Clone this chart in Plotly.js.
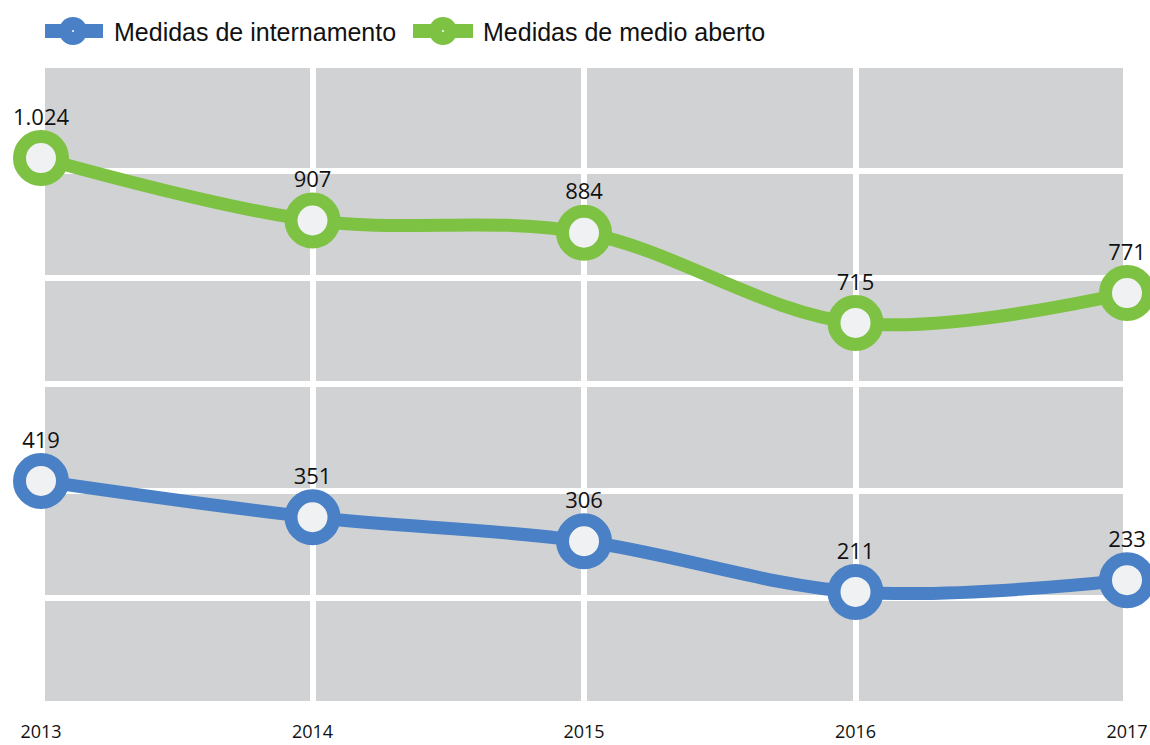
<!DOCTYPE html>
<html><head><meta charset="utf-8">
<script src="https://cdn.plot.ly/plotly-3.0.1.min.js"></script>
<style>html,body{margin:0;padding:0;background:#fff}#chart{width:1150px;height:745px}</style>
</head><body><div id="chart"></div>
<script>
const years = [2013, 2014, 2015, 2016, 2017];
const internamento = [419, 351, 306, 211, 233];
const medioAberto = [1024, 907, 884, 715, 771];
const seriesNames = ['Medidas de internamento', 'Medidas de medio aberto'];
const seriesColors = ['#4a80c5', '#7dc242'];

function trace(name, y, color) {
  return {
    x: years, y: y, name: name, type: 'scatter', mode: 'lines+markers+text',
    line: {color: color, width: 13, shape: 'spline', smoothing: 1},
    marker: {size: 43, color: '#f0f1f3', line: {color: color, width: 13}},
    texttemplate: '%{y:,}', textposition: 'top center',
    textfont: {family: 'Open Sans, sans-serif', size: 22, color: '#111'},
    cliponaxis: false, hoverinfo: 'x+y', showlegend: false
  };
}
const data = [
  trace(seriesNames[0], internamento, seriesColors[0]),
  trace(seriesNames[1], medioAberto, seriesColors[1])
];

// page geometry helpers (pixel -> paper)
const M = {l: 41, r: 23, t: 68, b: 44};
const PW = 1150 - M.l - M.r, PH = 745 - M.t - M.b;
const px = v => (v - M.l) / PW;
const py = v => (745 - M.b - v) / PH;

const shapes = [], annotations = [];
// gray plotting panel (slightly inset from the outer points)
shapes.push({type: 'rect', xref: 'paper', yref: 'paper', layer: 'below',
  x0: px(45), x1: px(1123), y0: 0, y1: 1, fillcolor: '#d1d2d4', line: {width: 0}});

// custom legend (line + big dot + label)
const legendSpec = [
  {lineFrom: 45, lineTo: 103, dot: 73, text: 112},
  {lineFrom: 413, lineTo: 473, dot: 443, text: 481}
];
const LY = 31;
legendSpec.forEach((s, i) => {
  const c = seriesColors[i];
  shapes.push({type: 'line', xref: 'paper', yref: 'paper', x0: px(s.lineFrom), x1: px(s.lineTo),
    y0: py(LY), y1: py(LY), line: {color: c, width: 14}});
  shapes.push({type: 'circle', xref: 'paper', yref: 'paper', x0: px(s.dot - 14), x1: px(s.dot + 14),
    y0: py(LY + 14), y1: py(LY - 14), fillcolor: c, line: {width: 0}});
  shapes.push({type: 'circle', xref: 'paper', yref: 'paper', x0: px(s.dot - 1), x1: px(s.dot + 1),
    y0: py(LY + 1), y1: py(LY - 1), fillcolor: '#ffffff', line: {width: 0}});
  annotations.push({xref: 'paper', yref: 'paper', x: px(s.text), y: py(LY + 1), xanchor: 'left', yanchor: 'middle',
    text: seriesNames[i], showarrow: false,
    font: {family: 'Liberation Sans, Arial, sans-serif', size: 25, color: '#111'}});
});

const layout = {
  width: 1150, height: 745,
  margin: M,
  paper_bgcolor: '#ffffff', plot_bgcolor: '#ffffff',
  separators: ',.',
  showlegend: false,
  shapes: shapes, annotations: annotations,
  xaxis: {range: [2013, 2017], tickvals: years, ticktext: years.map(String),
    showgrid: true, gridcolor: '#ffffff', gridwidth: 6, zeroline: false,
    showline: false, ticks: '', ticklabelstandoff: 18,
    tickfont: {family: 'Open Sans, sans-serif', size: 18, color: '#111'}},
  yaxis: {range: [6.7, 1192.7], dtick: 200, tick0: 0, showgrid: true, gridcolor: '#ffffff',
    gridwidth: 6, zeroline: false, showticklabels: false, ticks: '', showline: false}
};
Plotly.newPlot('chart', data, layout, {displayModeBar: false, staticPlot: true});
</script></body></html>
